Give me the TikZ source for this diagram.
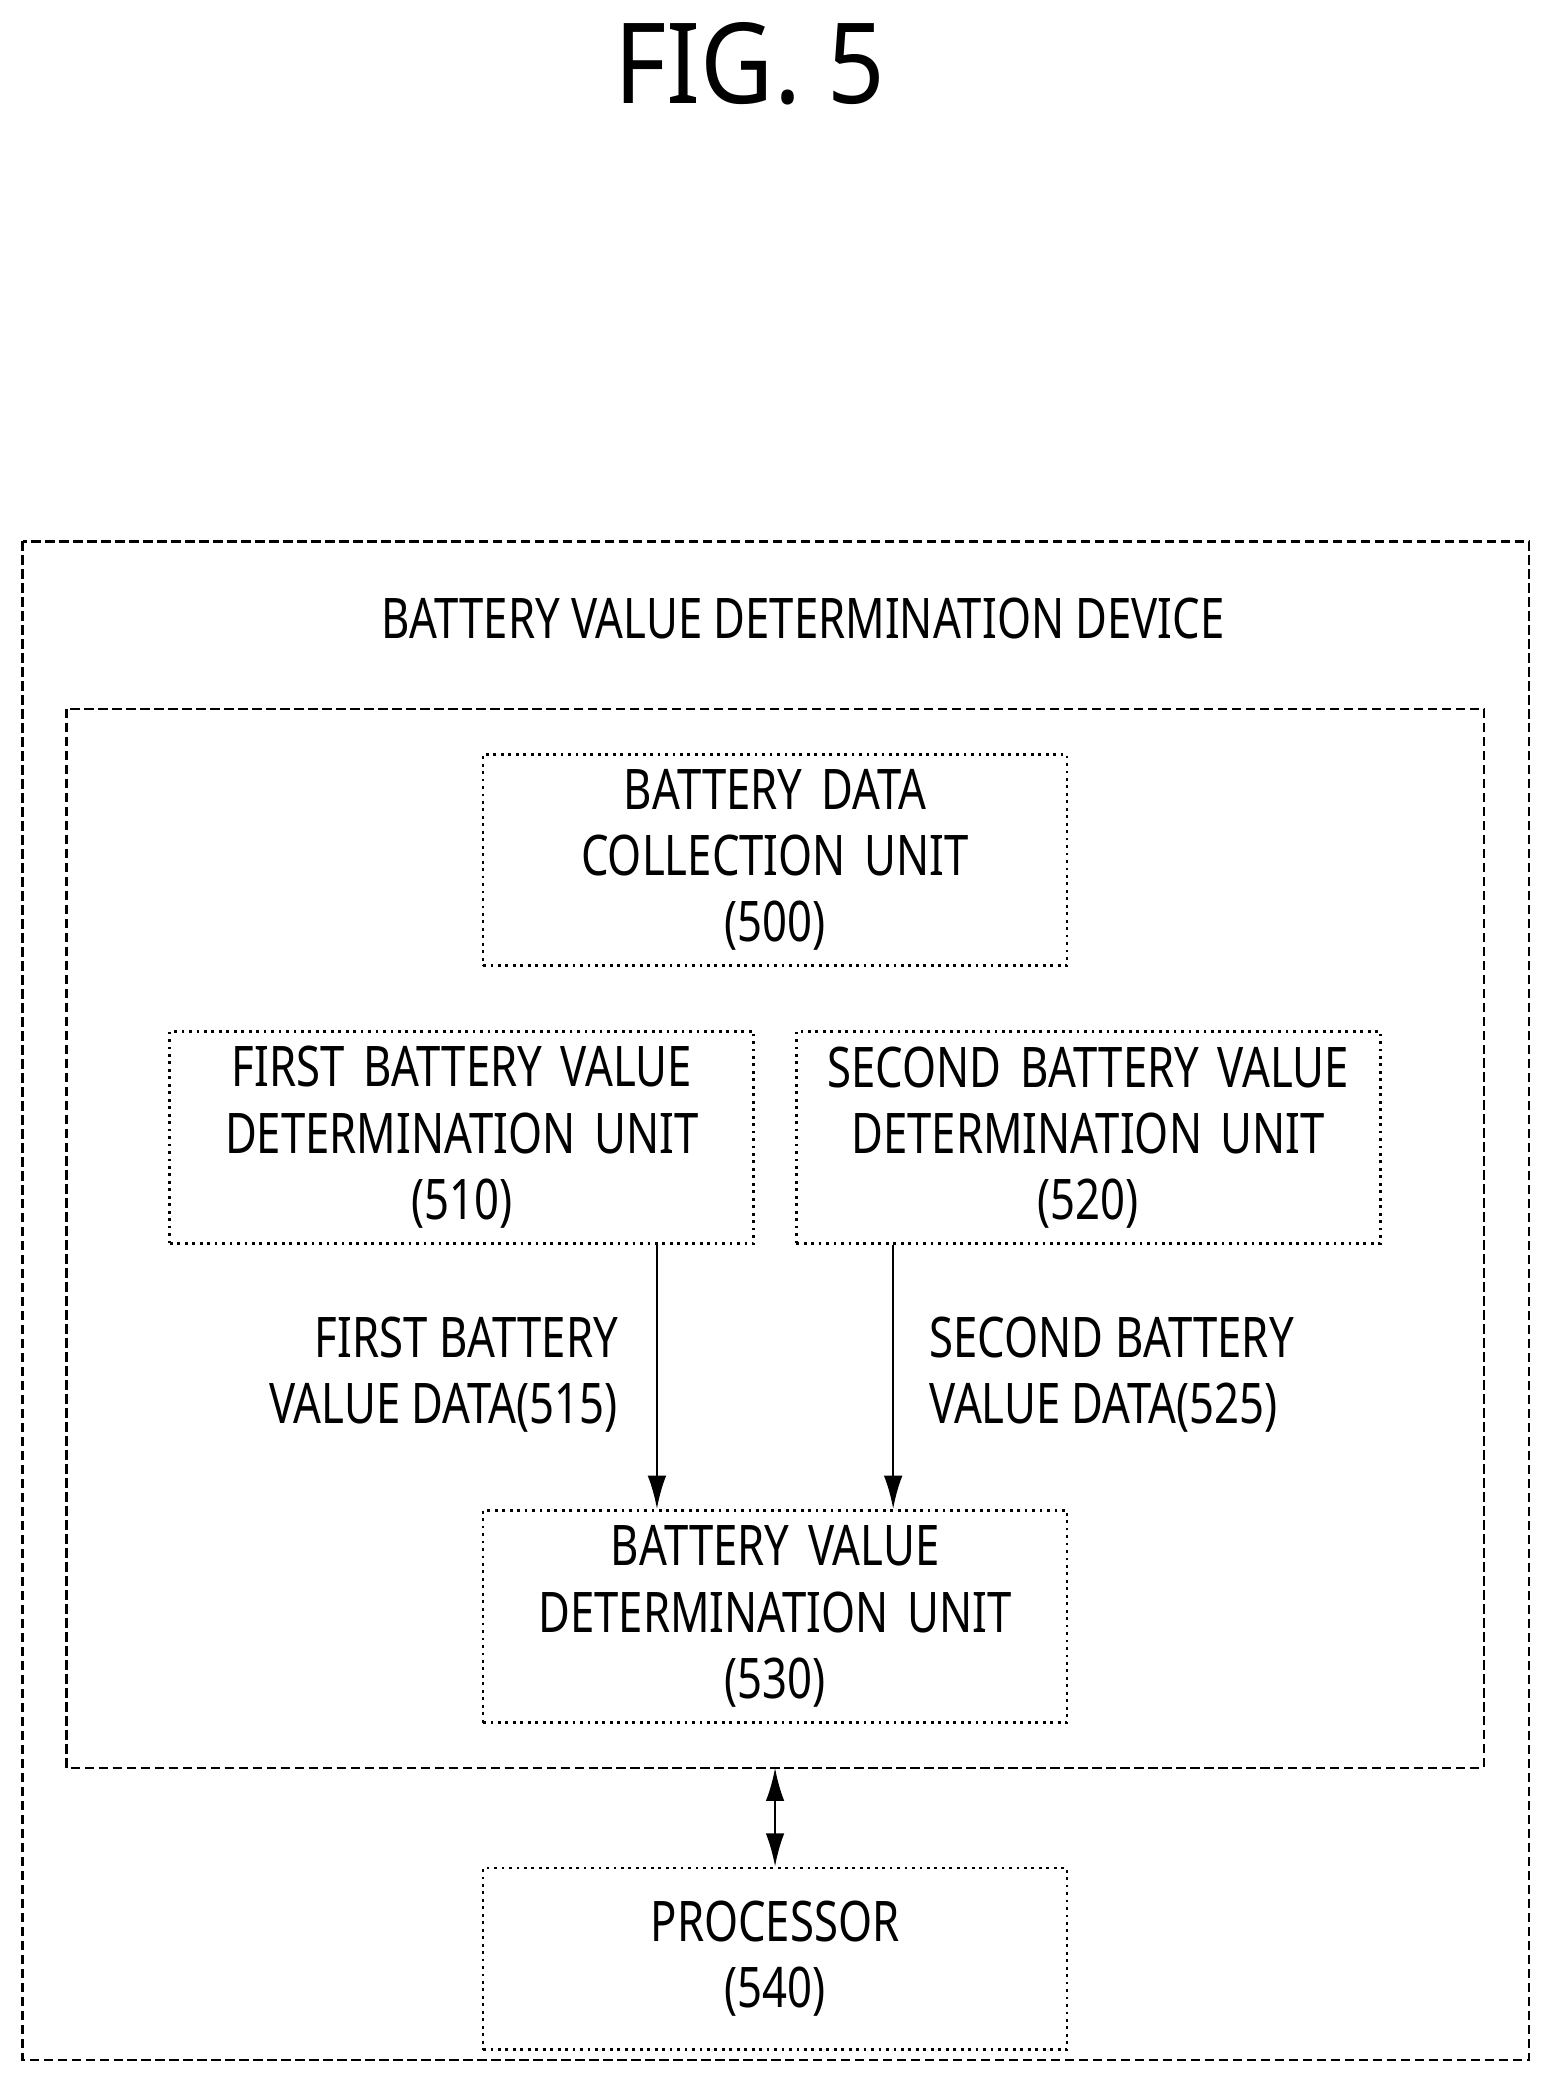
\documentclass[tikz,border=0pt]{standalone}
\usepackage{fontspec}
\setmainfont{Noto Sans}[FakeStretch=0.78]
\newfontfamily\figfont{Noto Sans}[FakeStretch=0.9]
\usetikzlibrary{arrows.meta}
\tikzset{
  unit/.style={draw,densely dotted,line width=0.6pt,inner sep=0pt,text width=44mm,align=center,font=\fontsize{12}{14.2}\selectfont},
  frame/.style={draw,dash pattern=on 2pt off 1pt,line width=0.5pt},
  flow/.style={-{Latex[length=2.5mm,width=1.4mm]},line width=0.5pt},
  lbl/.style={font=\fontsize{12}{14.2}\selectfont}
}
\begin{document}
\begin{tikzpicture}[x=0.1mm,y=-0.1mm]
  \useasboundingbox (0,0) rectangle (1165,1562);
  \node[font=\figfont\fontsize{24}{26}\selectfont] (fig) at (565,48) {FIG. 5};
  % outer device and inner frame
  \draw[frame] (17,408) rectangle (1152,1552);
  \node[lbl] (device) at (605,466) {BATTERY VALUE DETERMINATION DEVICE};
  \draw[frame] (50,534) rectangle (1118,1332);
  \coordinate (innerbot) at (584,1332);
  % units
  \node[unit,minimum height=15.9mm] (collect) at (584,648) {BATTERY DATA\\COLLECTION UNIT\\(500)};
  \node[unit,minimum height=16mm] (first) at (348,857) {FIRST BATTERY VALUE\\DETERMINATION UNIT\\(510)};
  \node[unit,minimum height=16mm] (second) at (820,857) {SECOND BATTERY VALUE\\DETERMINATION UNIT\\(520)};
  \node[unit,minimum height=16mm] (decide) at (584,1218) {BATTERY VALUE\\DETERMINATION UNIT\\(530)};
  \node[unit,minimum height=13.7mm] (proc) at (584,1476) {PROCESSOR\\(540)};
  % data flows
  \draw[flow] (first.south -| 495,0) -- (decide.north -| 495,0);
  \draw[flow] (second.south -| 673,0) -- (decide.north -| 673,0);
  \node[lbl,align=right,anchor=east] (data1) at (478,1036) {FIRST BATTERY\\VALUE DATA(515)};
  \node[lbl,align=left,anchor=west] (data2) at (688,1036) {SECOND BATTERY\\VALUE DATA(525)};
  \draw[{Latex[length=2.5mm,width=1.4mm]}-{Latex[length=2.5mm,width=1.4mm]},line width=0.5pt] (innerbot) -- (proc.north);
\end{tikzpicture}
\end{document}
